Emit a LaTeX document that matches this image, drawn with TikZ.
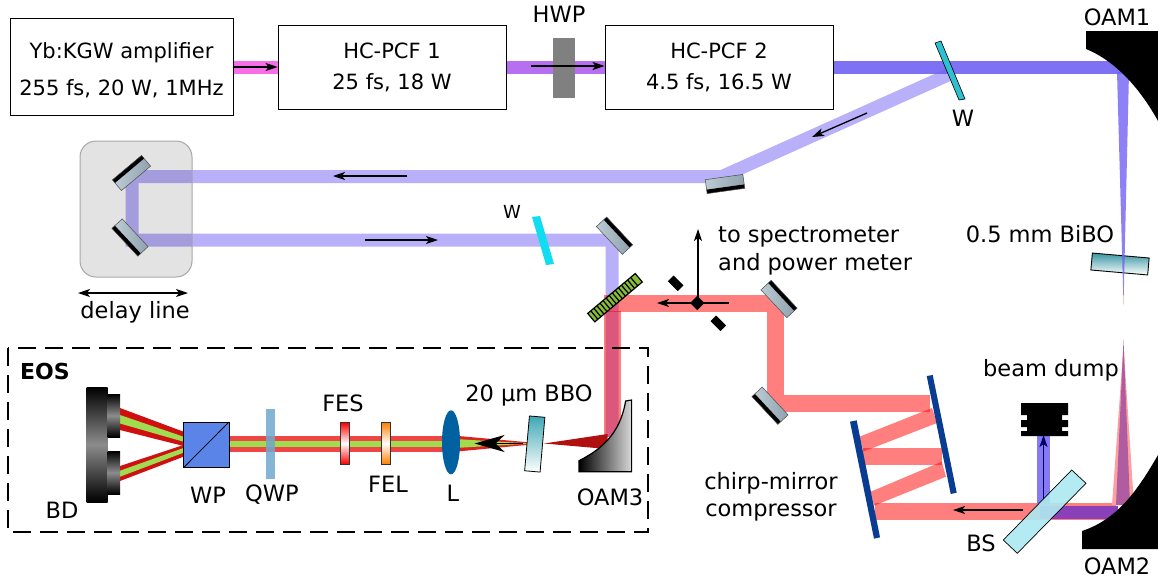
\documentclass[tikz,border=0pt]{standalone}
\usepackage{fontspec}
\setmainfont{DejaVu Sans}
\usetikzlibrary{arrows.meta}
\definecolor{beamblue}{HTML}{7161F2}
\definecolor{mirrorblue}{HTML}{0A3D91}
\definecolor{crystal}{HTML}{3FA7B5}
\definecolor{mirrorl}{HTML}{BCCBD4}
\definecolor{mirrorr}{HTML}{8FA2AE}
\definecolor{probegreen}{HTML}{A0DC50}
\definecolor{gratinggreen}{HTML}{86BC36}
\definecolor{lensblue}{HTML}{0060A0}
\definecolor{beampink}{HTML}{F76EE8}
\definecolor{beamviolet}{HTML}{B56FF0}
\definecolor{windowcyan}{HTML}{30C0D0}
\definecolor{windowbright}{HTML}{10DDF0}
\definecolor{focuspink}{HTML}{FCA0A0}
\definecolor{focusmix}{HTML}{B05CA0}
\definecolor{beammix}{HTML}{8A40B8}
\definecolor{splitter}{HTML}{AEE8F0}
\definecolor{darkred}{HTML}{D01010}
\definecolor{midred}{HTML}{E02020}
\definecolor{deepred}{HTML}{B01010}
\definecolor{lightred}{HTML}{F04545}
\definecolor{cubeblue}{HTML}{5B84E8}
\definecolor{qwpblue}{HTML}{6FA8CC}
\tikzset{
  fibrebox/.style={draw, line width=1pt, fill=white, align=center, minimum height=84pt, minimum width=228pt, inner sep=0pt, font=\fontsize{21}{21}\selectfont},
  textlabel/.style={inner sep=0pt},
  redbeam/.style={draw=red, opacity=0.5, line width=17pt},
  redfill/.style={fill=red, opacity=0.5},
  lightbeam/.style={draw=beamblue, opacity=0.5, line width=13pt},
  beamarrow/.style={-{Stealth[length=12pt,width=8pt,inset=3pt]}, line width=1.3pt},
  filterbox/.style={draw=black!80, line width=0.8pt}
}
\newcommand{\mirrorat}[3]{
  \begin{scope}[shift={(#1,#2)}, rotate=#3]
    \shade[left color=mirrorl, middle color=white, right color=mirrorr] (-19,-3) rectangle (19,7);
    \fill[black] (-19,-7) rectangle (19,-3);
    \draw[black!70, line width=0.5pt] (-19,-7) rectangle (19,7);
  \end{scope}}
\begin{document}
\begin{tikzpicture}[x=1pt, y=-1pt, font=\fontsize{22.5}{22.5}\selectfont]
  \useasboundingbox (0,0) rectangle (1158,579);
  \node[fibrebox, minimum width=223pt, minimum height=97pt] (amp) at (121.5,67) {\rule{0pt}{22pt}Yb:KGW amplifier\\[16pt]255 fs, 20 W, 1MHz};
  \node[fibrebox] (pcfa) at (392,67) {HC-PCF 1\\[10pt]25 fs, 18 W};
  \node[fibrebox] (pcfb) at (719,67) {HC-PCF 2\\[10pt]4.5 fs, 16.5 W};
  \coordinate (oama) at (1124,67);
  \coordinate (wa) at (948,75);
  \draw[line width=13pt, draw=beampink] (amp.east) -- (pcfa.west);
  \draw[line width=13pt, draw=beamviolet] (pcfa.east) -- (pcfb.west);
  \draw[line width=13pt, draw=beamblue!90!white] (pcfb.east) -- (oama);
  \draw[beamarrow] (amp.east) -- (pcfa.west);
  \fill[black!50] (553,38) rectangle (575,98);
  \draw[beamarrow] (531,66) -- (pcfb.west |- 531,66);
  \node[textlabel] (hwplabel) at (559,14) {HWP};

  % pump beam and delay line
  \draw[lightbeam, line join=miter] (wa) -- (722,176.5) -- (132,176.5) -- (132,240) -- (612,240) -- (612,437);
  \fill[black, opacity=0.11, rounded corners=16pt] (80,141) rectangle (192,277);
  \draw[black!35, line width=1pt, rounded corners=16pt] (80,141) rectangle (192,277);
  \mirrorat{131.5}{173}{40}
  \mirrorat{130}{237.5}{133}
  \mirrorat{725}{184}{188}
  \mirrorat{614.5}{235.7}{-47}
  \draw[beamarrow] (867,113) -- (812,137);
  \draw[beamarrow] (407,176) -- (333,176);
  \draw[beamarrow] (365,240) -- (438,240);
  \draw[{Stealth[length=12pt,width=8pt,inset=3pt]}-{Stealth[length=12pt,width=8pt,inset=3pt]}, line width=1.3pt] (78,293) -- (188,293);
  \node[textlabel] (delaylabel) at (135,312) {delay line};
  \fill[windowbright] (532,217) -- (540,216) -- (554,264) -- (546,265) -- cycle;
  \node[textlabel, font=\fontsize{18}{18}\selectfont] (wb) at (512,212) {W};
  \draw[fill=windowcyan, line width=0.6pt] (935,43) -- (941,41) -- (965,99) -- (959,100) -- cycle;
  \node[textlabel] (walabel) at (963,118) {W};

  % compressor path
  \draw[redbeam] (604,303.5) -- (783,303.5);
  \draw[redbeam] (775,312) -- (775,395);
  \draw[redbeam] (767,403.5) -- (850,403.5);
  \draw[redbeam] (849.5,403.5) -- (930,403.5);
  \fill[redfill] (932,408) -- (937,423) -- (863.5,451.5) -- (859.5,436.7) -- cycle;
  \draw[redbeam] (863,456.5) -- (942,456.5);
  \fill[redfill] (941.7,461.7) -- (946,476.7) -- (874,505.7) -- (870.7,491.7) -- cycle;
  \draw[redbeam] (875,511.5) -- (954,511.5);
  \draw[redbeam] (953.5,511.5) -- (1116,511.5);
  \draw[redbeam] (612.5,311) -- (612.5,380);
  \draw[redbeam] (612.5,379.5) -- (612.5,437);
  \fill[mirrorblue] (926.7,376) -- (932.7,375) -- (956.7,492.7) -- (950.7,494) -- cycle;
  \fill[mirrorblue] (850,421.7) -- (856.7,420.3) -- (880,537.3) -- (874,538.7) -- cycle;
  \mirrorat{779}{299}{-47}
  \mirrorat{770}{405.7}{133}
  \begin{scope}[shift={(615,297.7)}, rotate=40]
    \shade[left color=gratinggreen, middle color=white, right color=gratinggreen] (-31,-5.5) rectangle (31,5.5);
    \foreach \u in {-27,-23,...,27} \draw[line width=1.2pt] (\u,-5.5) -- (\u,5.5);
    \draw[line width=1.2pt] (-31,-5.5) rectangle (31,5.5);
  \end{scope}
  \foreach \cx/\cy/\sw/\sh in {697.3/303/10/10, 675.7/283.3/14/8, 718.3/323.3/14/8}
    \fill[black, shift={(\cx,\cy)}, rotate=-45] (-\sw/2,-\sh/2) rectangle (\sw/2,\sh/2);
  \draw[beamarrow] (729,303) -- (657,303);
  \draw[beamarrow] (698,303) -- (698,229);
  \node[textlabel, align=left, anchor=west] (speclabel) at (718,251) {to spectrometer\\[6pt]and power meter};
  \node[textlabel, align=center] (chirplabel) at (771,497) {chirp-mirror\\[5pt]compressor};

  % OAMs and focus
  \shade[top color=crystal!90!black, bottom color=white, rotate around={-5:(1120,264)}] (1091.5,255.5) rectangle (1148.5,272.5);
  \draw[line width=0.9pt, rotate around={-5:(1120,264)}] (1091.5,255.5) rectangle (1148.5,272.5);
  \fill[beamblue, opacity=0.8] (1117,72) -- (1129,72) -- (1123.5,305) -- cycle;
  \fill[focuspink] (1123.5,345) -- (1112,505) -- (1134,505) -- cycle;
  \fill[focusmix] (1123.5,340) -- (1116,505) -- (1130,505) -- cycle;
  \draw[line width=13pt, draw=beammix] (1040,512) -- (1118,512);
  \draw[line width=13pt, draw=beamblue!85!white] (1043.5,505) -- (1043.5,435);
  \draw[-{Stealth[length=12pt,width=8pt,inset=3pt]}, line width=1.3pt, blue!40!black] (1043.5,500) -- (1043.5,435);
  \fill[black] (1086,31) -- (1158,31) -- (1158,121) .. controls (1142,92) and (1118,62) .. (1086,49) -- cycle;
  \fill[black] (1082,549) -- (1158,549) -- (1158,455) .. controls (1135,495) and (1115,520) .. (1082,531) -- cycle;
  \draw[fill=splitter, fill opacity=0.92, line width=0.7pt] (1071.7,470) -- (1086,483.3) -- (1017.3,553.3) -- (1003.3,540) -- cycle;
  \draw[beamarrow] (1023,510) -- (953,510);
  \shade[left color=black, middle color=white, right color=black] (1027,415) rectangle (1062,431);
  \fill[black] (1021,403) rectangle (1068,415) (1021,420) rectangle (1068,427) (1021,431) rectangle (1068,436);
  \node[textlabel] (oamalabel) at (1117,17) {OAM1};
  \node[textlabel] (bibolabel) at (1040,234) {0.5 mm BiBO};
  \node[textlabel] (dumplabel) at (1051,370) {beam dump};
  \node[textlabel] (oamblabel) at (1117,566) {OAM2};
  \node[textlabel] (bslabel) at (981,543) {BS};

  % EOS
  \fill[darkred] (120,408) -- (120,430) -- (183.5,446) -- (183.5,431.7) -- cycle;
  \fill[darkred] (120,466) -- (120,481) -- (183.5,456.7) -- (183.5,445) -- cycle;
  \fill[probegreen] (120,415) -- (120,423.5) -- (183.5,441.7) -- (183.5,436.7) -- cycle;
  \fill[probegreen] (120,470.7) -- (120,476.7) -- (183.5,452.7) -- (183.5,448) -- cycle;
  \shade[top color=black, bottom color=black, middle color=black!45] (86.5,387) rectangle (107.6,502);
  \shade[top color=black, bottom color=black, middle color=black!45] (107.6,394) rectangle (120,437);
  \shade[top color=black, bottom color=black, middle color=black!45] (107.6,451) rectangle (120,494);
  \draw[line width=16pt, draw=lightred] (229,444) -- (451,444);
  \draw[line width=6pt, draw=probegreen] (229,444) -- (451,444);
  \fill[midred] (455,435.7) -- (455,451.7) -- (542,443.5) -- cycle;
  \fill[probegreen] (455,439) -- (455,448) -- (530,443.5) -- cycle;
  \fill[deepred] (544,443.5) -- (607.5,434) -- (607.5,449) -- cycle;
  \draw[fill=cubeblue, line width=1pt] (183.5,422) rectangle (229,467.7);
  \draw[line width=0.8pt] (183.5,467.7) -- (229,422);
  \fill[qwpblue, opacity=0.85] (266,409) rectangle (274.6,479);
  \shade[top color=red, bottom color=red, middle color=white] (340.5,422.7) rectangle (349.3,464);
  \draw[filterbox] (340.5,422.7) rectangle (349.3,464);
  \shade[top color=orange, bottom color=orange, middle color=white] (381.4,422.7) rectangle (390,464);
  \draw[filterbox] (381.4,422.7) rectangle (390,464);
  \fill[lensblue] (451,442.3) ellipse (9 and 32);
  \draw[line width=1.3pt, -{Stealth[length=30pt,width=17pt,inset=9pt]}] (523,443.5) -- (474.6,443.5);
  \shade[top color=crystal, bottom color=white, rotate around={-5:(534.6,444)}] (527,416.5) rectangle (542.5,471.5);
  \draw[line width=0.8pt, rotate around={-5:(534.6,444)}] (527,416.5) rectangle (542.5,471.5);
  \shade[left color=black, right color=black!15] (579,460.7) .. controls (600,450) and (620,435) .. (625.6,401) -- (631.6,400) -- (631.6,471.7) -- (579,471.7) -- cycle;
  \draw[line width=1.2pt] (579,460.7) .. controls (600,450) and (620,435) .. (625.6,401) -- (631.6,400) -- (631.6,471.7) -- (579,471.7) -- cycle;
  \draw[dash pattern=on 18pt off 9pt, line width=1.6pt] (8,348) rectangle (648,532);
  \node[textlabel, font=\fontsize{22}{22}\selectfont\bfseries] (eoslabel) at (45,371) {EOS};
  \node[textlabel] (bdlabel) at (62,510) {BD};
  \node[textlabel] (wplabel) at (208,495) {WP};
  \node[textlabel] (qwplabel) at (272,495) {QWP};
  \node[textlabel] (feslabel) at (343,403) {FES};
  \node[textlabel] (fellabel) at (388,484) {FEL};
  \node[textlabel] (llabel) at (453,493) {L};
  \node[textlabel] (bbolabel) at (529,395) {20 µm BBO};
  \node[textlabel] (oamclabel) at (610,497) {OAM3};
\end{tikzpicture}
\end{document}
